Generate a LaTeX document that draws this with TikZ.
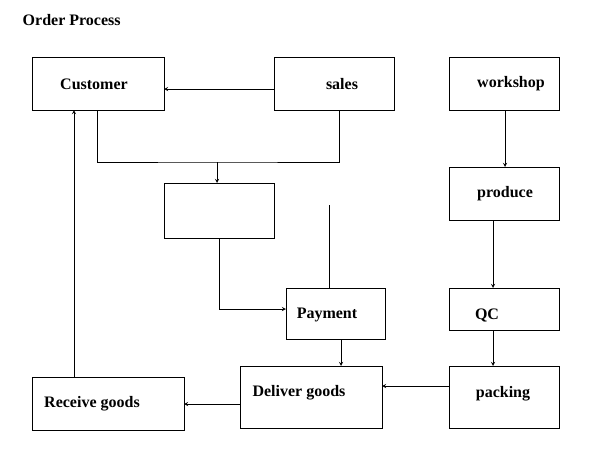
\documentclass[tikz,border=0pt]{standalone}
\usepackage{fontspec}
\setmainfont{Liberation Serif}
\usetikzlibrary{calc}
\begin{document}
\begin{tikzpicture}
    [x=0.75pt,y=-0.75pt,>=stealth,
     box/.style={draw,rectangle,font=\bfseries\large},
     line/.style={draw,thin}]
    \useasboundingbox (0,0) rectangle (609,461);
    %Title
    \node[anchor=west,font=\bfseries\large] (title) at (18,20){Order Process};
    %Boxes
    \draw (32,57) rectangle (164,110); \node[font=\bfseries\large] (cust) at (94,84){Customer};
    \coordinate (custB) at (97,110); \coordinate (custR) at (164,89); \coordinate (custB2) at (74,110);
    \draw (274,57) rectangle (394,110); \node[font=\bfseries\large] (sales) at (342,84){sales};
    \coordinate (salesL) at (274,89); \coordinate (salesB) at (339,110);
    \draw (449,57) rectangle (559,110); \node[font=\bfseries\large] (work) at (511,84){workshop};
    \coordinate (workB) at (505,110);
    \draw (164,183) rectangle (274,238); \coordinate (midT) at (217,183); \coordinate (midB) at (219,238);
    \draw (449,167) rectangle (559,220); \node[font=\bfseries\large] (prod) at (505,194){produce};
    \coordinate (prodT) at (505,167); \coordinate (prodB) at (493,220);
    \draw (286,288) rectangle (385,339); \node[font=\bfseries\large] (pay) at (327,315){Payment};
    \coordinate (payL) at (286,309); \coordinate (payT) at (329,288); \coordinate (payB) at (341,339);
    \draw (449,288) rectangle (559,330); \node[font=\bfseries\large] (qc) at (487,315){QC};
    \coordinate (qcT) at (493,288); \coordinate (qcB) at (493,330);
    \draw (32,377) rectangle (184,430); \node[font=\bfseries\large] (recv) at (92,404){Receive goods};
    \coordinate (recvR) at (184,404); \coordinate (recvT) at (74,377);
    \draw (240,366) rectangle (382,428); \node[font=\bfseries\large] (deliv) at (299,393){Deliver goods};
    \coordinate (delivL) at (240,404); \coordinate (delivR) at (382,386); \coordinate (delivT) at (341,366);
    \draw (449,366) rectangle (559,428); \node[font=\bfseries\large] (pack) at (503,394){packing};
    \coordinate (packL) at (449,386); \coordinate (packT) at (493,366);

    %Edges
    \draw[->] (salesL) -- (custR);
    \draw (custB) |- (217,162) -| (salesB);
    \draw[->] (217,162) -- (midT);
    \draw[->] (midB) |- (payL);
    \coordinate (upline) at (329,205);
    \draw (upline) -- (payT);
    \draw[->] (workB) -- (prodT);
    \draw[->] (prodB) -- (qcT);
    \draw[->] (qcB) -- (packT);
    \draw[->] (packL) -- (delivR);
    \draw[->] (payB) -- (delivT);
    \draw[->] (delivL) -- (recvR);
    \draw[->] (recvT) -- (custB2);
\end{tikzpicture}
\end{document}
